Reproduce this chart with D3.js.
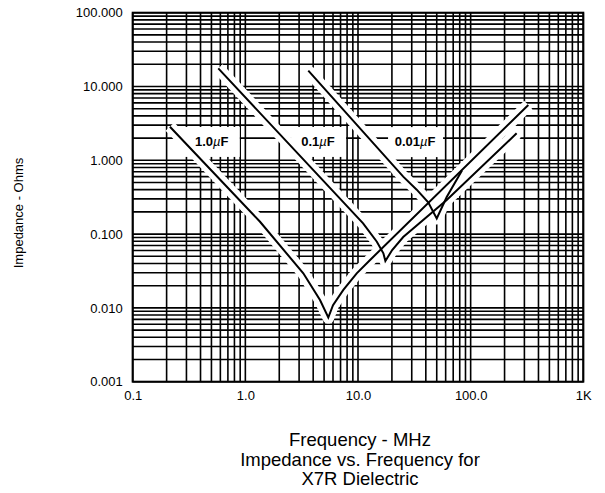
<!DOCTYPE html>
<html><head><meta charset="utf-8">
<script src="https://cdn.jsdelivr.net/npm/d3@7"></script>
<style>body{margin:0;background:#fff} svg{display:block} text{font-family:"Liberation Sans",Arial,Helvetica,sans-serif;fill:#000}</style>
</head><body><svg width="605" height="493"></svg>
<script>
// ---- data ----
const xTickValues = [0.1, 1, 10, 100, 1000];
const xTickLabels = ["0.1", "1.0", "10.0", "100.0", "1K"];
const yTickValues = [100, 10, 1, 0.1, 0.01, 0.001];
const yTickLabels = ["100.000", "10.000", "1.000", "0.100", "0.010", "0.001"];
const seriesValues = ["1.0", "0.1", "0.01"];
const seriesUnit = "\u00B5F";
// frequency (MHz) / impedance (Ohms)
const freq1u  = [0.214, 1.35, 3.27, 4.60, 5.45, 6.0, 7.41, 9.74, 12.8, 325];
const imp1u   = [2.85, 0.147, 0.0294, 0.0128, 0.0074, 0.0109, 0.0175, 0.0294, 0.0446, 5.62];
const freq01u = [0.575, 11.1, 14.7, 16.8, 17.5, 20.1, 25.2, 61.3, 256];
const imp01u  = [17.6, 0.140, 0.0789, 0.0550, 0.0432, 0.0608, 0.0914, 0.290, 2.32];
const freq001u = [3.62, 25.2, 33.2, 42.0, 50.0, 61.3, 83.8];
const imp001u  = [16.4, 0.60, 0.40, 0.27, 0.163, 0.318, 0.728];

// ---- drawing ----
const svg = d3.select("svg");
const x = d3.scaleLog().domain([0.1, 1000]).range([132.7, 583.3]);
const y = d3.scaleLog().domain([0.001, 100]).range([381.7, 12.7]);

const grid = svg.append("g").attr("stroke", "#000").attr("stroke-width", 1.6);
grid.selectAll(".vx").data(x.ticks()).join("line")
  .attr("x1", d => x(d)).attr("x2", d => x(d)).attr("y1", y(100)).attr("y2", y(0.001));
grid.selectAll(".hy").data(y.ticks()).join("line")
  .attr("y1", d => y(d)).attr("y2", d => y(d)).attr("x1", x(0.1)).attr("x2", x(1000));
svg.append("rect").attr("x", x(0.1)).attr("y", y(100))
  .attr("width", x(1000) - x(0.1)).attr("height", y(0.001) - y(100))
  .attr("fill", "none").attr("stroke", "#000").attr("stroke-width", 2);

const series = [
  {v: seriesValues[0], f: freq1u, z: imp1u},
  {v: seriesValues[1], f: freq01u, z: imp01u},
  {v: seriesValues[2], f: freq001u, z: imp001u}
];
const line = d3.line().x(d => x(d[0])).y(d => y(d[1]));
const pts = s => s.f.map((f, i) => [f, s.z[i]]);

// white halos
svg.append("g").selectAll("path").data(series).join("path")
  .attr("d", s => line(pts(s))).attr("fill", "none")
  .attr("stroke", "#fff").attr("stroke-width", 12).attr("stroke-linejoin", "round");

// label boxes (anchored at data coordinates)
const labelAnchors = [[0.503, 1.83], [4.42, 1.83], [32.1, 1.82]];
const boxes = svg.append("g");
series.forEach((s, i) => {
  const cx = x(labelAnchors[i][0]), cy = y(labelAnchors[i][1]);
  boxes.append("rect").attr("x", cx - 27).attr("y", cy - 14).attr("width", 55).attr("height", 30).attr("fill", "#fff");
});

// curves
svg.append("g").selectAll("path").data(series).join("path")
  .attr("d", s => line(pts(s))).attr("fill", "none")
  .attr("stroke", "#000").attr("stroke-width", 2).attr("stroke-linejoin", "miter");

// labels
series.forEach((s, i) => {
  const t = svg.append("text").attr("x", x(labelAnchors[i][0])).attr("y", y(labelAnchors[i][1]) + 5)
    .attr("text-anchor", "middle").attr("font-size", 13).attr("font-weight", "bold");
  t.append("tspan").text(s.v);
  t.append("tspan").attr("font-style", "italic").attr("font-weight", "normal").text(seriesUnit[0]);
  t.append("tspan").text(seriesUnit[1]);
});

// axes
const xAxis = d3.axisBottom(x).tickValues(xTickValues).tickFormat((d, i) => xTickLabels[i]).tickSize(0).tickPadding(6);
const gx = svg.append("g").attr("transform", `translate(0,${y(0.001)})`).call(xAxis);
gx.select(".domain").remove();
gx.selectAll("text").attr("font-size", 13).attr("font-family", null).attr("dy", "0.95em");
const yAxis = d3.axisLeft(y).tickValues(yTickValues).tickFormat((d, i) => yTickLabels[i]).tickSize(0).tickPadding(10);
const gy = svg.append("g").attr("transform", `translate(${x(0.1)},0)`).call(yAxis);
gy.select(".domain").remove();
gy.selectAll("text").attr("font-size", 13).attr("font-family", null);
svg.selectAll(".tick text").attr("fill", "#000");

// titles
svg.append("text").attr("transform", "translate(23,213) rotate(-90)")
  .attr("text-anchor", "middle").attr("font-size", 13).text("Impedance - Ohms");
const titles = ["Frequency - MHz", "Impedance vs. Frequency for", "X7R Dielectric"];
titles.forEach((t, i) => {
  svg.append("text").attr("x", 360).attr("y", 446 + i * 19.5)
    .attr("text-anchor", "middle").attr("font-size", 18.5).text(t);
});
</script></body></html>
